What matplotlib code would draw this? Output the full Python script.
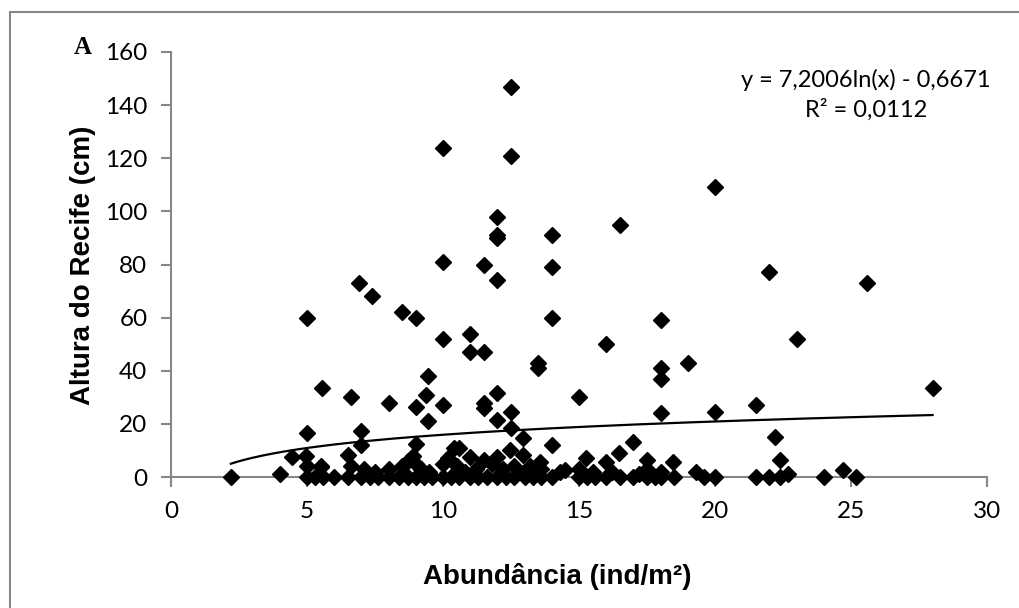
import numpy as np
import matplotlib.pyplot as plt
from matplotlib.patches import Rectangle

# Abundance (ind/m2) vs reef height (cm)
abund = [
    # taller reefs
    5.0, 5.55, 5.0, 6.9, 7.4, 6.6, 7.0, 7.0, 8.0, 8.5, 9.0, 9.45, 9.37, 9.0, 9.45, 9.0,
    10.0, 10.0, 10.0, 10.0, 11.0, 11.0, 11.5, 11.5, 11.5, 11.5, 12.0, 12.0, 12.0, 12.0,
    12.0, 12.0, 12.5, 12.5, 12.5, 12.5, 14.0, 14.0, 14.0, 13.5, 13.5, 14.0, 15.0, 16.0,
    16.5, 17.0, 18.0, 18.0, 18.0, 18.0, 19.0, 20.0, 20.0, 21.5, 22.0, 22.2, 22.4, 23.0,
    25.6, 28.0,
    # low reefs
    2.2, 4.0, 4.45, 4.95, 5.5, 6.5, 10.4, 10.6, 12.46, 12.95, 12.95, 16.46, 16.0, 17.5,
    18.46, 15.26, 13.56, 11.0, 11.5, 12.0, 14.5, 19.3, 22.7, 24.7,
    5.0, 5.5, 6.6, 7.1, 7.5, 8.0, 8.5, 8.7, 8.9, 9.0, 9.2, 9.5, 10.0, 10.2, 10.5, 10.8,
    11.2, 11.8, 12.2, 12.6, 13.0, 13.2, 13.6, 15.0, 15.5, 16.2, 17.5, 18.0, 14.3, 17.2,
    # zero height
    5.0, 5.3, 5.6, 6.0, 6.5, 7.0, 7.3, 7.6, 8.0, 8.4, 8.7, 9.0, 9.3, 9.6, 10.0, 10.3,
    10.6, 11.0, 11.3, 11.6, 12.0, 12.3, 12.6, 13.0, 13.3, 13.6, 14.0, 15.0, 15.3, 15.6,
    16.0, 16.5, 17.0, 17.5, 17.8, 18.0, 18.5, 19.6, 20.0, 21.5, 22.0, 22.4, 24.0, 25.2,
]
height = [
    60, 33.5, 16.5, 73, 68, 30, 17.4, 12, 28, 62, 60, 38, 31, 26.4, 21, 12.4,
    124, 81, 52, 27, 54, 47, 47, 80, 28, 26, 98, 91, 90, 74,
    31.5, 21.5, 147, 121, 24.5, 18.4, 91, 79, 60, 43, 41, 12, 30, 50,
    95, 13.3, 59, 41, 37, 24, 43, 109, 24.4, 27, 77, 15.2, 6.4, 52,
    73, 33.4,
    0, 1, 7.5, 8, 3.9, 8.3, 11, 11, 10, 14.6, 8.3, 9, 5.8, 6.4,
    5.8, 7.2, 5.8, 7.7, 6.4, 7.6, 2.6, 2, 1, 2.6,
    4, 4, 4, 3, 2, 3, 4, 6, 8, 5, 3, 2, 5, 7, 4, 2,
    3, 5, 3, 4, 2, 4, 3, 3, 2, 2, 3, 2, 2, 1,
    0, 0, 0, 0, 0, 0, 0, 0, 0, 0, 0, 0, 0, 0, 0, 0,
    0, 0, 0, 0, 0, 0, 0, 0, 0, 0, 0, 0, 0, 0,
    0, 0, 0, 0, 0, 0, 0, 0, 0, 0, 0, 0, 0, 0,
]

# logarithmic trendline coefficients
coef_a = 7.2006
coef_b = -0.6671
r2 = 0.0112

axis_gray = '#868686'
tick_font = 'Lato'
tick_size = 17.5

fig = plt.figure(figsize=(10.19, 6.08), dpi=100)
ax = fig.add_axes([171 / 1019, 1 - 477 / 608, 816 / 1019, 425 / 608])

# chart border
fig.patches.append(Rectangle((10 / 1019, -0.1), 1.2, 1.1 - 12 / 608, transform=fig.transFigure,
                             fill=False, edgecolor=axis_gray, linewidth=1.5))

ax.plot(abund, height, linestyle='none', marker='D', markersize=8,
        color='black', clip_on=False, zorder=3)

xs = np.linspace(min(abund), max(abund), 200)
ax.plot(xs, coef_a * np.log(xs) + coef_b, color='black', linewidth=1.6, zorder=2)

ax.set_xlim(0, 30)
ax.set_ylim(0, 160)
ax.set_xticks(np.arange(0, 31, 5))
ax.set_yticks(np.arange(0, 161, 20))

for side in ['top', 'right']:
    ax.spines[side].set_visible(False)
for side in ['left', 'bottom']:
    ax.spines[side].set_color(axis_gray)
    ax.spines[side].set_linewidth(1.5)
ax.tick_params(direction='out', length=7, width=1.5, color=axis_gray,
               labelsize=tick_size)
ax.tick_params(axis='x', pad=10.5)
ax.tick_params(axis='y', pad=10)
for lab in ax.get_xticklabels() + ax.get_yticklabels():
    lab.set_fontfamily(tick_font)

fig.text(83 / 1019, 1 - 265 / 608, 'Altura do Recife (cm)', rotation=90,
         ha='center', va='center', fontsize=20, fontweight='bold',
         family='Liberation Sans')
fig.text(557 / 1019, 1 - 577 / 608, 'Abundância (ind/m²)', ha='center', va='center',
         fontsize=20, fontweight='bold', family='Liberation Sans')
fig.text(83 / 1019, 1 - 48 / 608, 'A', ha='center', va='center', fontsize=18,
         fontweight='bold', family='Liberation Serif')

eq = f'y = {coef_a:.4f}ln(x) - {abs(coef_b):.4f}'.replace('.', ',')
fig.text(866 / 1019, 1 - 80 / 608, eq, ha='center', va='center', fontsize=17,
         family=tick_font)
fig.text(866 / 1019, 1 - 110 / 608, f'R² = {r2:.4f}'.replace('.', ','), ha='center',
         va='center', fontsize=17, family=tick_font)

fig.savefig('out.png', dpi=100)
